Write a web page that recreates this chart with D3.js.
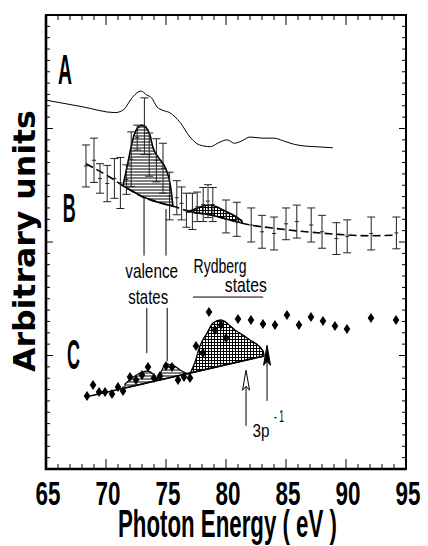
<!DOCTYPE html>
<html>
<head>
<meta charset="utf-8">
<script src="https://d3js.org/d3.v7.min.js"></script>
<style>
  body { margin: 0; background: #fff; }
  svg { display: block; }
  text { font-family: "Liberation Sans", Arial, sans-serif; fill: #000; }
</style>
</head>
<body>
<svg class="chart" width="428" height="546"></svg>
<script>
// ---- data (photon energy in eV, intensity in arbitrary units) ----
var aEnergy = [65, 68.1, 70.75, 71.4, 72.25, 72.9, 73.4, 73.8, 74.25, 74.75, 75.3, 76.2, 77.0, 77.8, 78.7, 79.3, 80.1, 80.7, 81.3, 82.0, 83.0, 84.0, 84.8, 85.7, 86.6, 87.4, 88.9];
var aValue  = [32.5, 31.9, 31.4, 31.6, 32.8, 33.3, 32.95, 32.7, 31.9, 31.6, 31.4, 30.5, 29.25, 28.55, 28.4, 28.7, 29.0, 28.7, 28.9, 29.25, 29.15, 29.15, 28.9, 28.6, 28.45, 28.4, 28.3];

var bEnergy = [68.33, 69.0, 69.5, 70.1, 70.7, 71.2, 71.7, 72.1, 72.6, 73.2, 73.6, 74.2, 74.75, 75.3, 75.9, 76.3, 76.7, 77.2, 77.6, 78.1, 78.5, 78.9, 80.0, 80.9, 82.1, 83.0, 84.0, 85.0, 85.9, 87.1, 88.0, 89.2, 90.1, 92.1, 94.2];
var bValue  = [26.7, 27.2, 25.6, 25.15, 25.6, 25.2, 25.5, 27.3, 29.2, 30.2, 27.7, 27.2, 26.5, 24.05, 23.9, 23.4, 22.8, 22.7, 23.1, 23.3, 23.6, 23.3, 22.25, 22.0, 21.5, 20.9, 20.75, 21.6, 21.8, 21.5, 20.9, 20.3, 20.5, 20.75, 20.8];
var bError  = [1.85, 1.95, 1.3, 1.6, 1.75, 2.25, 1.3, 2.4, 1.1, 2.5, 1.9, 1.9, 2.2, 2.1, 1.5, 1.45, 1.5, 1.6, 1.3, 1.5, 1.45, 1.5, 1.45, 1.5, 1.5, 1.45, 1.45, 1.4, 1.45, 1.5, 1.45, 1.4, 1.45, 1.45, 1.4];

// background (dashed) under spectrum B
var bBaseE = [68.33, 70.33, 71.5, 73.1, 74.5, 75.75, 77.0, 78.7, 80.3, 82.0, 83.7, 86.2, 89.0, 92.0, 94.2];
var bBaseV = [26.9, 25.7, 24.9, 23.95, 23.45, 23.1, 22.65, 22.4, 21.95, 21.5, 21.25, 20.95, 20.7, 20.55, 20.6];

// hatched valence peak of B (upper edge) and Rydberg bump (upper edge)
var bPeakE = [71.42, 71.67, 72.0, 72.33, 72.67, 73.0, 73.33, 73.67, 73.92, 74.33, 74.92, 75.25, 75.42, 75.58];
var bPeakV = [25.0, 26.2, 27.9, 29.4, 30.1, 30.3, 30.1, 29.4, 28.3, 27.5, 26.6, 25.6, 24.6, 23.15];
var bRydE  = [76.75, 77.42, 78.08, 78.67, 79.25, 79.92, 80.75, 81.33];
var bRydV  = [22.64, 22.91, 23.17, 23.26, 23.08, 22.73, 22.29, 21.85];

var cEnergy = [68.42, 68.92, 69.42, 69.92, 70.5, 71.0, 71.42, 72.0, 72.5, 73.0, 73.5, 74.0, 74.5, 75.0, 75.5, 76.0, 76.5, 77.0, 77.5, 78.08, 78.58, 79.08, 79.58, 80.0, 81.0, 82.08, 83.08, 84.08, 85.08, 86.08, 87.08, 88.08, 89.08, 90.08, 92.08, 94.17];
var cValue  = [6.43, 7.4, 6.78, 6.78, 6.61, 7.22, 6.87, 8.11, 7.84, 8.28, 8.99, 8.02, 8.19, 9.07, 8.99, 7.84, 8.11, 8.02, 10.84, 10.22, 13.83, 12.25, 12.69, 11.54, 13.22, 13.13, 12.78, 12.69, 13.57, 12.69, 13.39, 13.04, 12.6, 12.33, 13.3, 13.13];

// straight background line under C
var cLineE = [68.67, 83.17];
var cLineV = [6.43, 9.96];

// hatched features of C (upper edges)
var cHump1E = [71.58, 72.17, 73.0, 73.5, 73.92, 74.25];
var cHump1V = [7.49, 8.02, 8.55, 8.63, 8.37, 7.93];
var cHump2E = [74.25, 74.58, 75.0, 75.58, 76.17, 76.67, 77.0];
var cHump2V = [7.93, 8.55, 9.25, 9.16, 8.72, 8.46, 8.37];
var cRydE = [77.0, 77.42, 77.83, 78.42, 78.92, 79.58, 80.75, 82.0, 83.08, 83.17];
var cRydV = [8.37, 9.43, 10.84, 11.98, 12.86, 13.13, 12.25, 11.37, 10.4, 9.96];

var xTicks = [65, 70, 75, 80, 85, 90, 95];

// ---- setup ----
var svg = d3.select(".chart"),
    margin = {top: 15, right: 22, bottom: 77, left: 46},
    width = +svg.attr("width") - margin.left - margin.right,
    height = +svg.attr("height") - margin.top - margin.bottom,
    g = svg.append("g").attr("transform", "translate(" + margin.left + "," + margin.top + ")");

var x = d3.scaleLinear().domain([65, 95]).range([0, width]);
var y = d3.scaleLinear().domain([0, 40]).range([height, 0]);

function zip(es, vs) { return es.map(function(e, i) { return [e, vs[i]]; }); }
function interp(es, vs, e) {
  for (var i = 0; i < es.length - 1; i++) {
    if (e >= es[i] && e <= es[i + 1]) {
      var t = (e - es[i]) / (es[i + 1] - es[i]);
      return vs[i] + t * (vs[i + 1] - vs[i]);
    }
  }
  return e < es[0] ? vs[0] : vs[vs.length - 1];
}

// squeeze a text horizontally to a given width (condensed look of the original lettering)
function fit(sel, px, py, w, rot) {
  var len = sel.node().getComputedTextLength();
  var k = w / len;
  sel.attr("x", 0).attr("y", 0)
    .attr("transform", "translate(" + px + "," + py + ")" + (rot ? " rotate(" + rot + ")" : "") + " scale(" + k + ",1)");
  return sel;
}

// hatch patterns
var defs = svg.append("defs");
var ph = defs.append("pattern").attr("id", "hlines").attr("patternUnits", "userSpaceOnUse")
  .attr("width", 4).attr("height", 3);
ph.append("rect").attr("width", 4).attr("height", 3).attr("fill", "#fff");
ph.append("line").attr("x1", 0).attr("x2", 4).attr("y1", 1).attr("y2", 1).attr("stroke", "#000").attr("stroke-width", 1);

var pc = defs.append("pattern").attr("id", "grid").attr("patternUnits", "userSpaceOnUse")
  .attr("width", 3).attr("height", 3);
pc.append("rect").attr("width", 3).attr("height", 3).attr("fill", "#fff");
pc.append("path").attr("d", "M0,0.5H3M0.5,0V3").attr("stroke", "#000").attr("stroke-width", 1);

var line = d3.line().x(function(d) { return x(d[0]); }).y(function(d) { return y(d[1]); });
var smooth = d3.line().curve(d3.curveMonotoneX).x(function(d) { return x(d[0]); }).y(function(d) { return y(d[1]); });

// area between an upper edge and a background
function bandPath(es, vs, baseE, baseV) {
  var top = zip(es, vs);
  var bottom = es.slice().reverse().map(function(e) { return [e, interp(baseE, baseV, e)]; });
  return smooth(top) + "L" + bottom.map(function(d) { return x(d[0]) + "," + y(d[1]); }).join("L") + "Z";
}

// ---- curve A ----
g.append("path")
  .attr("d", smooth(zip(aEnergy, aValue)))
  .attr("fill", "none").attr("stroke", "#000").attr("stroke-width", 1);

// ---- spectrum B ----
g.append("path").attr("d", bandPath(bPeakE, bPeakV, bBaseE, bBaseV))
  .attr("fill", "url(#hlines)").attr("stroke", "#000").attr("stroke-width", 1.6);
g.append("path").attr("d", bandPath(bRydE, bRydV, bBaseE, bBaseV))
  .attr("fill", "url(#grid)").attr("stroke", "#000").attr("stroke-width", 1.6);

g.append("path")
  .attr("d", smooth(zip(bBaseE, bBaseV)))
  .attr("fill", "none").attr("stroke", "#000").attr("stroke-width", 1.6)
  .attr("stroke-dasharray", "8,4");

var bars = g.selectAll(".ebar").data(zip(bEnergy, bValue).map(function(d, i) { return d.concat(bError[i]); }))
  .enter().append("g").attr("class", "ebar");
bars.append("line")
  .attr("x1", function(d) { return x(d[0]); }).attr("x2", function(d) { return x(d[0]); })
  .attr("y1", function(d) { return y(d[1] + d[2]); }).attr("y2", function(d) { return y(d[1] - d[2]); })
  .attr("stroke", "#222").attr("stroke-width", 1);
[1, -1].forEach(function(s) {
  bars.append("line")
    .attr("x1", function(d) { return x(d[0]) - 4; }).attr("x2", function(d) { return x(d[0]) + 4; })
    .attr("y1", function(d) { return y(d[1] + s * d[2]); }).attr("y2", function(d) { return y(d[1] + s * d[2]); })
    .attr("stroke", "#222").attr("stroke-width", 1);
});
bars.append("line")
  .attr("x1", function(d) { return x(d[0]) - 2; }).attr("x2", function(d) { return x(d[0]) + 2; })
  .attr("y1", function(d) { return y(d[1]); }).attr("y2", function(d) { return y(d[1]); })
  .attr("stroke", "#222").attr("stroke-width", 1);

// ---- spectrum C ----
g.append("path").attr("d", bandPath(cHump1E, cHump1V, cLineE, cLineV))
  .attr("fill", "url(#hlines)").attr("stroke", "#000").attr("stroke-width", 1.2);
g.append("path").attr("d", bandPath(cHump2E, cHump2V, cLineE, cLineV))
  .attr("fill", "url(#hlines)").attr("stroke", "#000").attr("stroke-width", 1.2);
g.append("path").attr("d", bandPath(cRydE, cRydV, cLineE, cLineV))
  .attr("fill", "url(#grid)").attr("stroke", "#000").attr("stroke-width", 1.4);
g.append("path").attr("d", line(zip(cLineE, cLineV)))
  .attr("fill", "none").attr("stroke", "#000").attr("stroke-width", 1.6);

g.selectAll(".dia").data(zip(cEnergy, cValue)).enter().append("path")
  .attr("class", "dia")
  .attr("transform", function(d) { return "translate(" + x(d[0]) + "," + y(d[1]) + ")"; })
  .attr("d", "M0,-5L3.3,0L0,5L-3.3,0Z")
  .attr("fill", "#000");

// annotation lines
function vline(e, v0, v1) {
  g.append("line").attr("x1", x(e)).attr("x2", x(e)).attr("y1", y(v0)).attr("y2", y(v1))
    .attr("stroke", "#000").attr("stroke-width", 1);
}
vline(73.17, 23.9, 18.8);
vline(75.0, 22.9, 18.8);
vline(73.4, 14.2, 10.2);
vline(75.1, 14.2, 9.5);
g.append("line").attr("x1", x(77.25)).attr("x2", x(83.1)).attr("y1", y(15.15)).attr("y2", y(15.15))
  .attr("stroke", "#000").attr("stroke-width", 1);

// arrows
function arrow(e, v0, v1, filled) {
  var xx = x(e), yb = y(v0), yt = y(v1);
  g.append("line").attr("x1", xx).attr("x2", xx).attr("y1", yb).attr("y2", yt + 10)
    .attr("stroke", "#000").attr("stroke-width", 1);
  g.append("path")
    .attr("d", "M" + xx + "," + yt + "L" + (xx + 3.5) + "," + (yt + 20) + "L" + xx + "," + (yt + 16) + "L" + (xx - 3.5) + "," + (yt + 20) + "Z")
    .attr("fill", filled ? "#000" : "#fff").attr("stroke", "#000").attr("stroke-width", 1);
}
arrow(81.67, 3.8, 8.7, false);
arrow(83.42, 6.0, 10.9, true);

// ---- frame and ticks ----
g.append("rect").attr("width", width).attr("height", height)
  .attr("fill", "none").attr("stroke", "#000").attr("stroke-width", 2);
g.append("path").attr("d", "M0,0V" + height + "H" + width)
  .attr("fill", "none").attr("stroke", "#000").attr("stroke-width", 2.6);

var xMinor = d3.range(66, 95, 1);
g.selectAll(".xt").data(xMinor).enter().append("path")
  .attr("d", function(d) {
    var len = d % 5 === 0 ? 10 : 5;
    return "M" + x(d) + "," + height + "v" + (-len) + "M" + x(d) + ",0v" + len;
  })
  .attr("stroke", "#000").attr("stroke-width", 1);

var yMinor = d3.range(1, 40, 1);
g.selectAll(".yt").data(yMinor).enter().append("path")
  .attr("d", function(d) {
    var len = d % 10 === 0 ? 7 : 4;
    return "M0," + y(d) + "h" + len + "M" + width + "," + y(d) + "h" + (-len);
  })
  .attr("stroke", "#000").attr("stroke-width", 1);

// tick labels
g.selectAll(".xl").data(xTicks).enter().append("text")
  .attr("class", "xl")
  .attr("font-size", 33).attr("font-weight", "bold")
  .text(function(d) { return d; })
  .each(function(d) {
    fit(d3.select(this), x(d) - 10.5, height + 36, 25);
  });

// axis titles
fit(svg.append("text")
  .attr("font-size", 38).attr("font-weight", "bold")
  .text("Photon Energy ( eV )"), 118, 537, 219);

fit(svg.append("text")
  .style("font-family", "'DejaVu Sans', sans-serif")
  .attr("font-size", 30).attr("font-weight", "bold")
  .text("Arbitrary units"), 35, 372, 262, -90);

// panel letters and annotations
function label(t, e, v, size, w, weight) {
  return fit(g.append("text")
    .attr("font-size", size).attr("font-weight", weight || "bold")
    .text(t), x(e), y(v), w);
}
label("A", 66.0, 33.9, 42, 14);
label("B", 66.4, 21.8, 40, 13);
label("C", 66.75, 8.8, 42, 13);

label("valence", 71.6, 16.8, 20, 53, "normal");
label("states", 71.85, 14.5, 20, 40, "normal");
label("Rydberg", 77.3, 17.3, 20, 53, "normal");
label("states", 79.9, 15.6, 20, 42, "normal");

label("3p", 82.2, 2.85, 19, 17, "normal");
label("- 1", 84.0, 4.15, 17, 10, "normal");
</script>
</body>
</html>
